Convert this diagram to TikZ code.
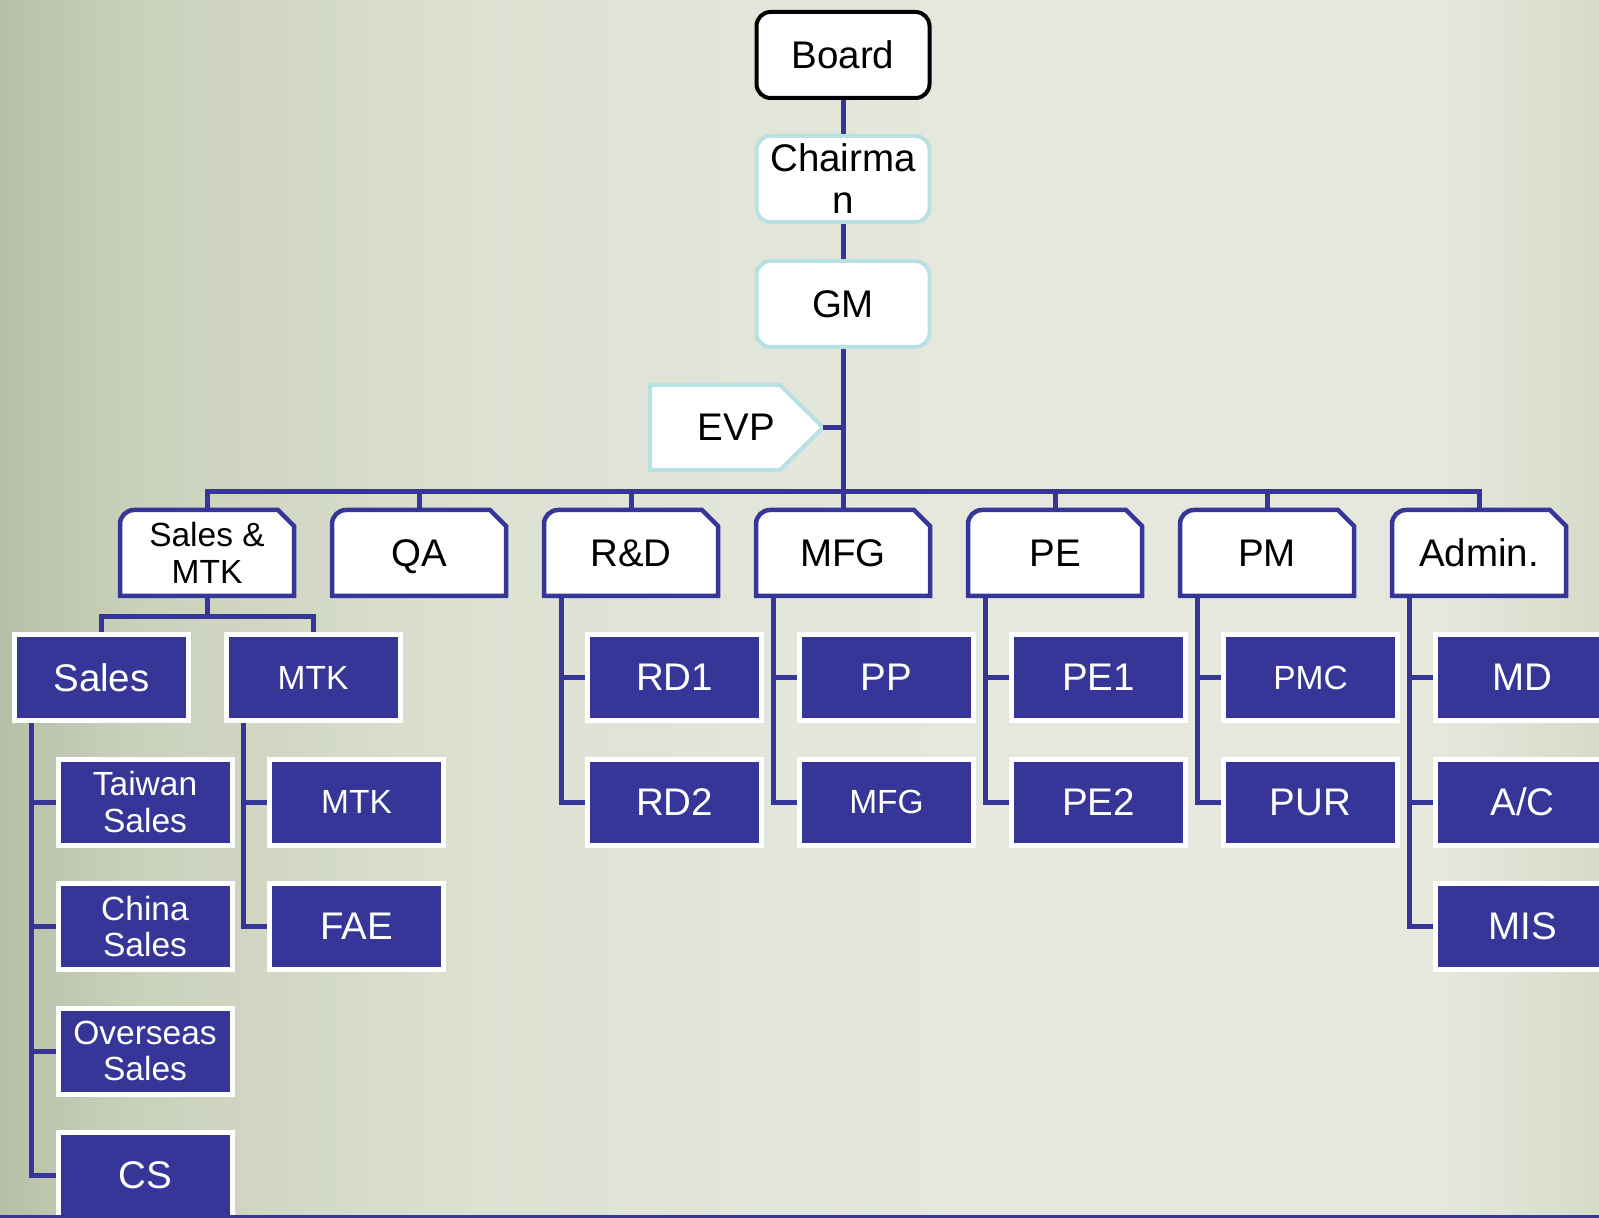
\documentclass[tikz,border=0pt]{standalone}
\usepackage{fontspec}
\setmainfont{Liberation Sans}
\usepackage{tikz}
\usetikzlibrary{positioning,calc,backgrounds}
\definecolor{orgnavy}{HTML}{363698}
\definecolor{orgcyan}{HTML}{B9E0E3}
\definecolor{bgedge}{HTML}{B7BFA7}
\definecolor{bgleft}{HTML}{C9D0BA}
\definecolor{bgmid}{HTML}{DDE1D2}
\definecolor{bglight}{HTML}{E6E8DE}
\definecolor{bgright}{HTML}{D6DBC8}
\pgfdeclarehorizontalshading{orgbg}{100bp}{color(0bp)=(bgedge); color(25bp)=(bgedge);
  color(29bp)=(bgleft); color(40bp)=(bgmid); color(55bp)=(bglight); color(70bp)=(bglight);
  color(75bp)=(bgright); color(100bp)=(bgright)}
\newcommand{\bigtxt}{\fontsize{19.25}{21}\selectfont}
\newcommand{\smalltxt}{\fontsize{16.75}{18.2}\selectfont}

\begin{document}
\begin{tikzpicture}[x=0.5pt,y=-0.5pt,node distance=16.75pt,
  orgline/.style={draw=orgnavy,line width=2.5pt},
  headbox/.style={draw=#1,line width=2pt,rounded corners=7pt,fill=white,minimum width=86.5pt,minimum height=43pt,inner sep=2pt,align=center,font=\bigtxt},
  evpnode/.style={minimum width=86.5pt,minimum height=42.5pt,outer sep=0pt,inner sep=2pt,font=\bigtxt},
  evpbox/.style={draw=orgcyan,line width=2pt,fill=white},
  dept/.style={minimum width=87pt,minimum height=43pt,outer sep=0pt,inner sep=2pt,align=center,font=\bigtxt},
  deptbox/.style={draw=orgnavy,line width=2.25pt,fill=white},
  unit/.style={draw=white,line width=2.5pt,fill=orgnavy,text=white,minimum width=87pt,minimum height=43pt,inner sep=2pt,align=center,font=\bigtxt},
  smalltext/.style={font=\smalltxt}]
\useasboundingbox (0,0) rectangle (1599,1218);
\clip (0,0) rectangle (1599,1218);
% top of the chart
\node[headbox=black] (board) at (843,55) {Board};
\node[headbox=orgcyan,below=17pt of board] (chair) {Chairma\\n};
\node[headbox=orgcyan,below=17.5pt of chair] (gm) {GM};
\node[evpnode] (evp) at (736.5,427.5) {EVP};
% departments
\node[dept,smalltext] (smtk) at (207,553) {Sales \&\\MTK};
\node[dept,right=19pt of smtk,text depth=0pt] (qa) {QA};
\node[dept,right=19pt of qa] (rd) {R\&D};
\node[dept,right=19pt of rd] (mfg) {MFG};
\node[dept,right=19pt of mfg] (pe) {PE};
\node[dept,right=19pt of pe] (pm) {PM};
\node[dept,right=19pt of pm] (adm) {Admin.};
% sales & marketing
\node[unit,below=18pt of smtk,xshift=-52.75pt] (sales) {Sales};
\node[unit,smalltext,below=18pt of smtk,xshift=53pt] (mtk) {MTK};
\node[unit,smalltext,below=of sales,xshift=21.75pt] (twsales) {Taiwan\\Sales};
\node[unit,smalltext,below=of twsales] (cnsales) {China\\Sales};
\node[unit,smalltext,below=of cnsales] (ossales) {Overseas\\Sales};
\node[unit,below=of ossales] (cs) {CS};
\node[unit,smalltext,below=of mtk,xshift=21.75pt] (mtksub) {MTK};
\node[unit,below=of mtksub] (fae) {FAE};
% other units
\node[unit,below=18pt of rd,xshift=21.75pt] (rd1) {RD1};
\node[unit,below=of rd1] (rd2) {RD2};
\node[unit,below=18pt of mfg,xshift=21.75pt] (pp) {PP};
\node[unit,smalltext,below=of pp] (mfgsub) {MFG};
\node[unit,below=18pt of pe,xshift=21.75pt] (pe1) {PE1};
\node[unit,below=of pe1] (pe2) {PE2};
\node[unit,smalltext,below=18pt of pm,xshift=21.75pt] (pmc) {PMC};
\node[unit,below=of pmc] (pur) {PUR};
\node[unit,below=18pt of adm,xshift=21.75pt] (md) {MD};
\node[unit,below=of md] (ac) {A/C};
\node[unit,below=of ac] (mis) {MIS};
% box outlines and background
\begin{scope}[on background layer]
\shade[shading=orgbg] (0,0) rectangle (1599,1218);
\draw[evpbox] (evp.north west) -- ([xshift=-21.5pt]evp.north east) -- (evp.east)
  -- ([xshift=-21.5pt]evp.south east) -- (evp.south west) -- cycle;
\foreach \d in {smtk,qa,rd,mfg,pe,pm,adm}
  \draw[deptbox] (\d.south west) -- ([yshift=-7pt]\d.north west)
    arc[start angle=180,end angle=90,radius=7pt] -- ([xshift=-8pt]\d.north east)
    -- ([yshift=-8pt]\d.north east) -- (\d.south east) -- cycle;
\end{scope}
% connectors
\draw[orgline] (board) -- (chair);
\draw[orgline] (chair) -- (gm);
\draw[orgline] (gm) -- (mfg);
\draw[orgline] (evp.east) -- (evp.east -| gm.south);
\draw[orgline] (smtk.north) -- ++(0,-18) -| (adm.north);
\foreach \d in {qa,rd,pe,pm}
  \draw[orgline] (\d.north) -- ++(0,-18);
\draw[orgline] (smtk.south) -- ++(0,20);
\draw[orgline] (sales.north) |- ([yshift=-10pt]smtk.south) -| (mtk.north);
\foreach \c in {twsales,cnsales,ossales,cs}
  \draw[orgline] ([xshift=9.5pt]sales.south west) |- (\c.west);
\foreach \c in {mtksub,fae}
  \draw[orgline] ([xshift=10pt]mtk.south west) |- (\c.west);
\foreach \d/\c in {rd/rd1,rd/rd2,mfg/pp,mfg/mfgsub,pe/pe1,pe/pe2,pm/pmc,pm/pur,adm/md,adm/ac,adm/mis}
  \draw[orgline] ([xshift=8.75pt]\d.south west) |- (\c.west);
\draw[orgnavy,line width=2pt] (0,1216.5) -- (1599,1216.5);
\end{tikzpicture}
\end{document}
